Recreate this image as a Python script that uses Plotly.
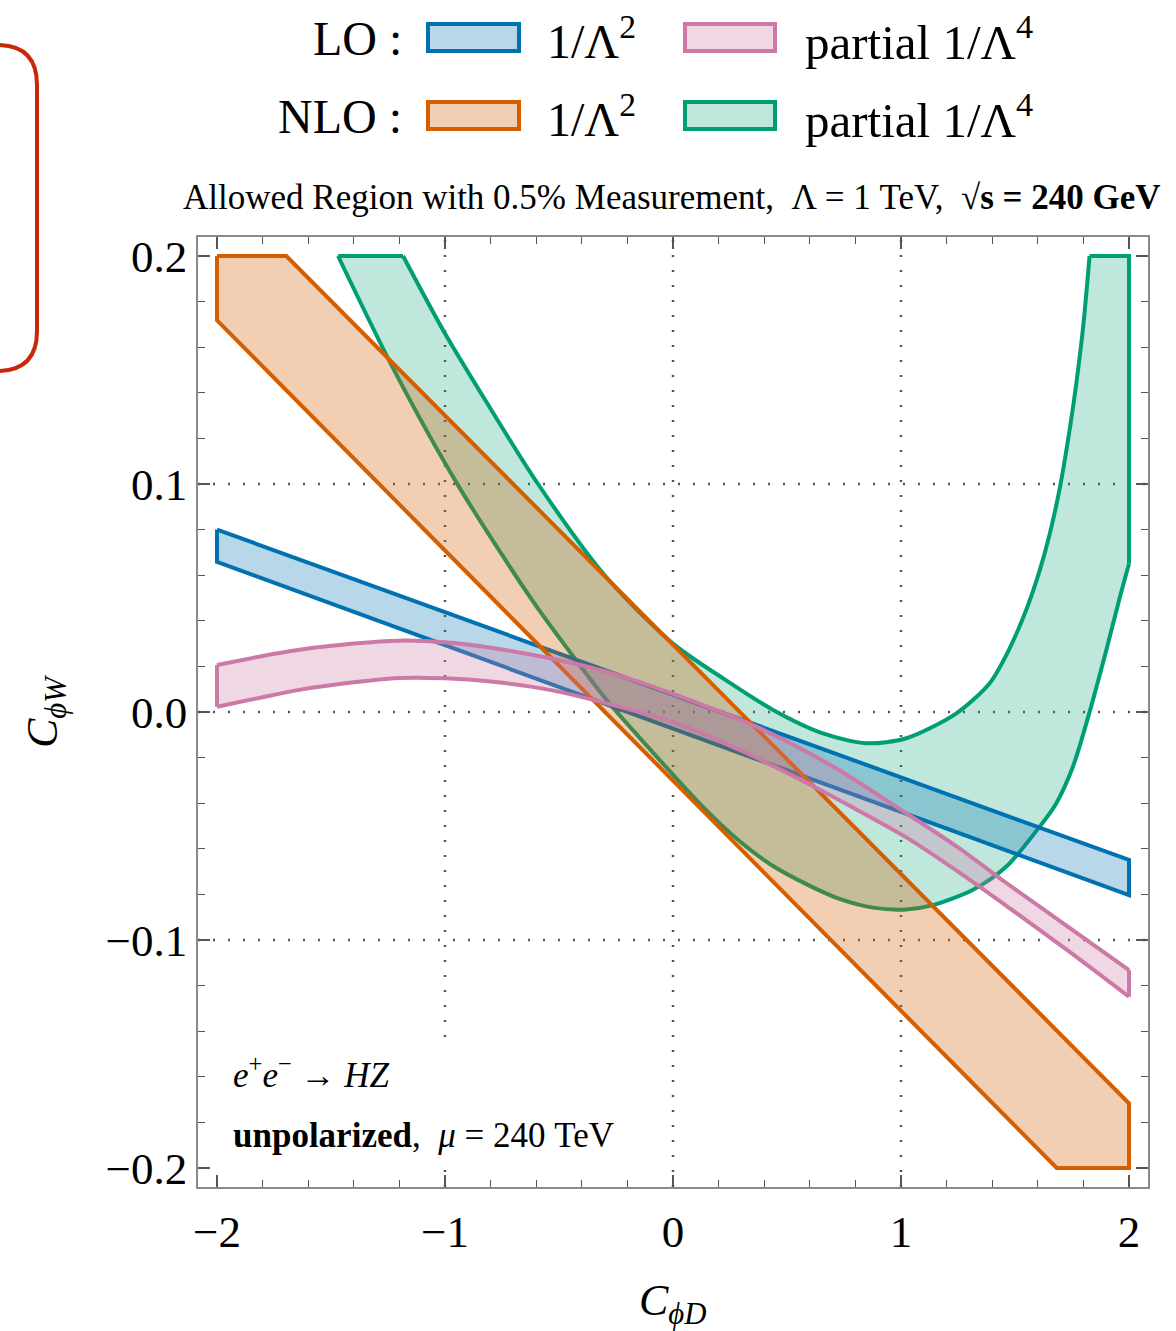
import plotly.graph_objects as go

# ---------------- data ----------------
# LO 1/Lambda^2 band (straight lines)
lo2_x = [-2.0, 2.0]
lo2_upper = [0.0800, -0.0649]
lo2_lower = [0.0658, -0.0803]

# LO partial 1/Lambda^4 band
lo4_x_up = [-2.0, -1.8, -1.645, -1.4, -1.206, -1.0, -0.8, -0.534, -0.3, 0.0, 0.365, 0.7, 1.023, 1.25, 1.462, 1.75, 2.0]
lo4_upper = [0.0206, 0.0246, 0.0272, 0.0300, 0.0313, 0.0306, 0.0282, 0.0235, 0.0179, 0.0080, -0.0064, -0.0238,
             -0.0444, -0.0594, -0.0750, -0.0954, -0.1132]
lo4_x_lo = [-2.0, -1.8, -1.645, -1.4, -1.206, -1.0, -0.8, -0.534, -0.3, 0.0, 0.3, 0.585, 0.8, 1.023, 1.25, 1.462, 1.75, 2.0]
lo4_lower = [0.0023, 0.0065, 0.0096, 0.0130, 0.0149, 0.0148, 0.0134, 0.0096, 0.0040, -0.0045, -0.0170, -0.0310,
             -0.0425, -0.0550, -0.0700, -0.0850, -0.1060, -0.1249]

# NLO 1/Lambda^2 region (boundary vertices, clipped by the plot box)
nlo2_x = [-2.0, -1.696, 2.0, 2.0, 1.683, -2.0]
nlo2_y = [0.200, 0.200, -0.1716, -0.200, -0.200, 0.1718]

# NLO partial 1/Lambda^4 region: outer boundary (left to right)
nlo4_x_out = [-1.184, -1.0, -0.8, -0.592, -0.3, 0.0, 0.219, 0.439, 0.658, 0.848, 1.023,
              1.243, 1.389, 1.462, 1.55, 1.608, 1.652, 1.696, 1.740, 1.77, 1.80, 1.827]
nlo4_y_out = [0.200, 0.166, 0.133, 0.100, 0.060, 0.030, 0.0148, 0.0009, -0.0094, -0.0137, -0.0115,
              -0.0006, 0.0126, 0.0250, 0.0450, 0.0620, 0.0780, 0.0980, 0.1240, 0.1450, 0.1700, 0.200]
# right edge of the region (along the plot box)
nlo4_x_edge = [1.827, 2.0, 2.0]
nlo4_y_edge = [0.200, 0.200, 0.065]
# inner boundary (right to left)
nlo4_x_in = [2.0, 1.959, 1.90, 1.827, 1.754, 1.68, 1.608, 1.462, 1.316, 1.14, 1.023, 0.877, 0.73,
             0.585, 0.43, 0.278, 0.14, 0.0, -0.14, -0.285, -0.45, -0.621, -0.943, -1.221, -1.469]
nlo4_y_in = [0.065, 0.050, 0.027, 0.0, -0.024, -0.0402, -0.0503, -0.0678, -0.078, -0.0847, -0.0866, -0.0858, -0.0820,
             -0.0755, -0.0670, -0.0555, -0.0425, -0.0275, -0.0120, 0.0045, 0.0260, 0.0495, 0.0995, 0.1495, 0.200]

x_ticks = [-2, -1, 0, 1, 2]
x_ticktext = ["\u22122", "\u22121", "0", "1", "2"]
y_ticks = [-0.2, -0.1, 0.0, 0.1, 0.2]
y_ticktext = ["\u22120.2", "\u22120.1", "0.0", "0.1", "0.2"]
grid_x = [-1, 0, 1]
grid_y = [-0.1, 0.0, 0.1]

# ---------------- styling ----------------
BLUE, PINK, ORANGE, GREEN = "#0072B2", "#CC79A7", "#D55E00", "#009E73"
FILL = {
    BLUE: "rgba(0,114,178,0.28)",
    PINK: "rgba(204,121,167,0.30)",
    ORANGE: "rgba(213,94,0,0.30)",
    GREEN: "rgba(0,158,115,0.25)",
}
LW = 4
SERIF = "Liberation Serif"
W, H = 1176, 1331
L, T, R, B = 198, 237, 1148, 1187
XR = [-2.0833, 2.0833]
YR = [-0.20833, 0.20833]


def PX(px):
    return (px - L) / (R - L)


def PY(py):
    return (B - py) / (B - T)


fig = go.Figure()


def fill(xs, ys, color):
    fig.add_trace(go.Scatter(x=xs + [xs[0]], y=ys + [ys[0]], mode="lines", fill="toself",
                             fillcolor=FILL[color], line=dict(width=0), showlegend=False,
                             hoverinfo="skip"))


def edge(xs, ys, color, smooth):
    fig.add_trace(go.Scatter(x=xs, y=ys, mode="lines",
                             line=dict(color=color, width=LW, shape="spline" if smooth else "linear",
                                       smoothing=0.8),
                             showlegend=False, hoverinfo="skip"))


# draw order: green, blue, orange, pink
# NLO partial 1/L^4 (green)
fill(nlo4_x_out + nlo4_x_edge[1:] + nlo4_x_in[1:], nlo4_y_out + nlo4_y_edge[1:] + nlo4_y_in[1:], GREEN)
edge(nlo4_x_out, nlo4_y_out, GREEN, True)
edge(nlo4_x_edge, nlo4_y_edge, GREEN, False)
edge(nlo4_x_in, nlo4_y_in, GREEN, True)
edge([nlo4_x_in[-1], nlo4_x_out[0]], [nlo4_y_in[-1], nlo4_y_out[0]], GREEN, False)

# LO 1/L^2 (blue)
bx = lo2_x + lo2_x[::-1]
by = lo2_upper + lo2_lower[::-1]
fill(bx, by, BLUE)
edge(bx + [bx[0]], by + [by[0]], BLUE, False)

# NLO 1/L^2 (orange)
fill(nlo2_x, nlo2_y, ORANGE)
edge(nlo2_x + [nlo2_x[0]], nlo2_y + [nlo2_y[0]], ORANGE, False)

# LO partial 1/L^4 (pink)
fill(lo4_x_up + lo4_x_lo[::-1], lo4_upper + lo4_lower[::-1], PINK)
edge(lo4_x_up, lo4_upper, PINK, True)
edge(lo4_x_lo, lo4_lower, PINK, True)
edge([lo4_x_up[0], lo4_x_lo[0]], [lo4_upper[0], lo4_lower[0]], PINK, False)
edge([lo4_x_up[-1], lo4_x_lo[-1]], [lo4_upper[-1], lo4_lower[-1]], PINK, False)

# dummy trace for mirrored axes
fig.add_trace(go.Scatter(x=[None], y=[None], xaxis="x2", yaxis="y2", showlegend=False))

shapes = []
for gx in grid_x:
    shapes.append(dict(type="line", xref="x", yref="paper", x0=gx, x1=gx, y0=0, y1=1,
                       line=dict(color="#555", width=2.5, dash="2px,13px"), layer="below"))
for gy in grid_y:
    shapes.append(dict(type="line", xref="paper", yref="y", x0=0, x1=1, y0=gy, y1=gy,
                       line=dict(color="#555", width=2.5, dash="2px,13px"), layer="below"))
# white box behind the in-plot labels
shapes.append(dict(type="rect", xref="paper", yref="paper", x0=PX(222), x1=PX(630),
                   y0=PY(1165), y1=PY(1045), fillcolor="white", line=dict(width=0), layer="below"))

# legend swatches
for (x0, x1, y0, y1, c) in [(428, 519, 24, 51, BLUE), (685, 775, 24, 51, PINK),
                            (428, 519, 102, 129, ORANGE), (685, 775, 102, 129, GREEN)]:
    shapes.append(dict(type="rect", xref="paper", yref="paper", x0=PX(x0), x1=PX(x1),
                       y0=PY(y1), y1=PY(y0), fillcolor=FILL[c], line=dict(color=c, width=4)))

# red rounded rectangle at top-left
rl, rr, rt, rb, rad = -30, 37, 45, 371, 40
path = (f"M {PX(rl)},{PY(rt)} L {PX(rr - rad)},{PY(rt)} "
        f"Q {PX(rr)},{PY(rt)} {PX(rr)},{PY(rt + rad)} "
        f"L {PX(rr)},{PY(rb - rad)} "
        f"Q {PX(rr)},{PY(rb)} {PX(rr - rad)},{PY(rb)} "
        f"L {PX(rl)},{PY(rb)}")
shapes.append(dict(type="path", xref="paper", yref="paper", path=path,
                   line=dict(color="#C8280A", width=4)))

ann = []


def text(px, py, s, size, xanchor="center", angle=0):
    ann.append(dict(x=PX(px), y=PY(py), xref="paper", yref="paper", text=s, showarrow=False,
                    xanchor=xanchor, yanchor="middle", textangle=angle,
                    font=dict(family=SERIF, size=size, color="black")))


text(404, 38, "LO :", 48, "right")
text(404, 116, "NLO :", 48, "right")
text(545, 38, "1/\u039b<sup>2</sup>", 48, "left")
text(545, 116, "1/\u039b<sup>2</sup>", 48, "left")
text(803, 38, "partial 1/\u039b<sup>4</sup>", 49, "left")
text(803, 116, "partial 1/\u039b<sup>4</sup>", 49, "left")
text(672, 197, "Allowed Region with 0.5% Measurement,  \u039b = 1 TeV,  \u221a<b>s = 240 GeV</b>", 35)
text(231, 1072, "<i>e</i><sup>+</sup><i>e</i><sup>\u2212</sup> \u2192 <i>HZ</i>", 35, "left")
text(231, 1135, "<b>unpolarized</b>,  <i>\u03bc</i> = 240 TeV", 35, "left")
text(673, 1303, "<i>C</i><sub><i>\u03d5D</i></sub>", 44)
text(45, 712, "<i>C</i><sub><i>\u03d5W</i></sub>", 44, "center", -90)

axis_common = dict(showgrid=False, zeroline=False, showline=True, linecolor="#8a8a8a", linewidth=1.5,
                   ticks="inside", ticklen=12, tickwidth=1.5, tickcolor="#555")

fig.update_layout(
    width=W, height=H, margin=dict(l=L, r=W - R, t=T, b=H - B),
    paper_bgcolor="white", plot_bgcolor="white", showlegend=False,
    shapes=shapes, annotations=ann,
    xaxis=dict(range=XR, tickvals=x_ticks, ticktext=x_ticktext,
               tickfont=dict(family=SERIF, size=45, color="black"), ticklabelstandoff=4,
               minor=dict(dtick=0.2, tick0=0, ticks="inside", ticklen=7, tickwidth=1.2, tickcolor="#555"),
               **axis_common),
    yaxis=dict(range=YR, tickvals=y_ticks, ticktext=y_ticktext,
               tickfont=dict(family=SERIF, size=45, color="black"), ticklabelstandoff=0,
               minor=dict(dtick=0.02, tick0=0, ticks="inside", ticklen=7, tickwidth=1.2, tickcolor="#555"),
               **axis_common),
    xaxis2=dict(range=XR, overlaying="x", side="top", anchor="y", tickvals=x_ticks, showticklabels=False,
                minor=dict(dtick=0.2, tick0=0, ticks="inside", ticklen=7, tickwidth=1.2, tickcolor="#555"),
                **axis_common),
    yaxis2=dict(range=YR, overlaying="y", side="right", anchor="x", tickvals=y_ticks, showticklabels=False,
                minor=dict(dtick=0.02, tick0=0, ticks="inside", ticklen=7, tickwidth=1.2, tickcolor="#555"),
                **axis_common),
)

fig.write_html("out.html", config={"displayModeBar": False},
               post_script="document.body.style.margin='0';document.body.style.padding='0';")
